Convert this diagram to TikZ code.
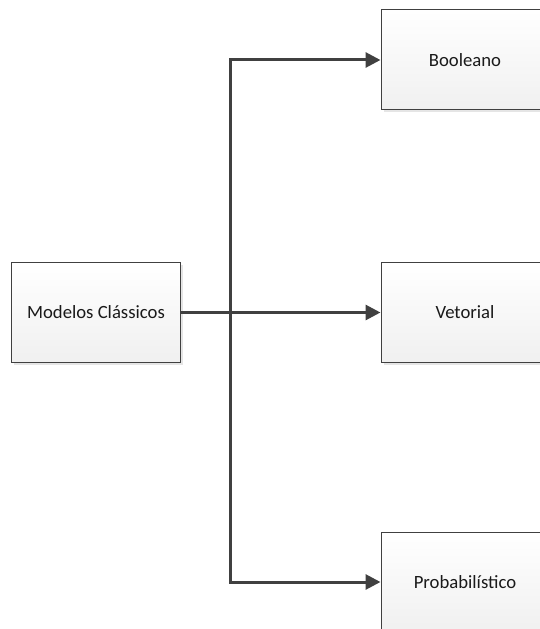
\documentclass[tikz,border=0pt]{standalone}
\usepackage{fontspec}
\setmainfont{Carlito}
\usetikzlibrary{arrows.meta,shadows}
\definecolor{edgec}{HTML}{404040}
\definecolor{txtc}{HTML}{1A1A1A}
\definecolor{botc}{HTML}{F0F0F0}
\tikzset{
  boxnode/.style={draw=edgec, line width=1bp, rectangle, minimum width=168bp, minimum height=100bp,
    top color=white, bottom color=botc, text=txtc, inner sep=0pt,
    font=\fontsize{18.7bp}{22bp}\selectfont,
    drop shadow={shadow xshift=2.5bp, shadow yshift=-2.5bp, opacity=0.25, fill=black!40}},
  conn/.style={draw=edgec, line width=3bp, -{Triangle[length=15bp,width=15bp]}},
  plainconn/.style={draw=edgec, line width=3bp}
}
\begin{document}
\begin{tikzpicture}[x=1bp,y=1bp]
\useasboundingbox (0,0) rectangle (540,-629);
\node[boxnode] (mc) at (96,-312.5) {Modelos Clássicos};
\node[boxnode] (bool) at (465,-60) {Booleano};
\node[boxnode] (vet) at (465,-312.5) {Vetorial};
\node[boxnode] (prob) at (465,-582) {Probabilístico};
\coordinate (j) at (230,-312.5);
\draw[plainconn] (mc.east) -- (j);
\draw[conn] (j) |- (bool.west);
\draw[conn] (j) -- (vet.west);
\draw[conn] (j) |- (prob.west);
\end{tikzpicture}
\end{document}
